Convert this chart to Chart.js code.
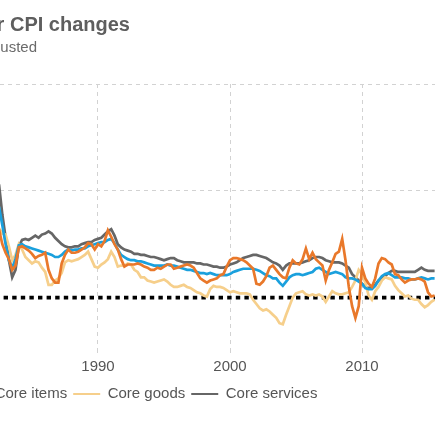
<!DOCTYPE html>
<html>
<head>
<meta charset="utf-8">
<script src="https://cdn.jsdelivr.net/npm/chart.js@4.4.1/dist/chart.umd.min.js"></script>
<style>
  html, body { margin: 0; padding: 0; background: #fff; }
  #wrap { position: relative; width: 435px; height: 435px; overflow: hidden; }
  #chart { position: absolute; left: -143px; top: 0; }
  .title, .sub { position: absolute; white-space: nowrap; font-family: 'Liberation Sans', Arial, sans-serif; }
  .title { right: 305px; top: 13.5px; font-size: 20px; font-weight: bold; line-height: 20px; color: #5e5e5e; }
  .sub { right: 398px; top: 39px; font-size: 15px; line-height: 15px; color: #6a6a6a; }
</style>
</head>
<body>
<div id="wrap">
  <canvas id="chart" width="578" height="435" style="width:578px;height:435px"></canvas>
  <div class="title">Year-over-year CPI changes</div>
  <div class="sub">Percent, seasonally adjusted</div>
</div>
<script>
// ---------- data (quarterly, % change from a year earlier) ----------
const firstQuarter = 1982.5;

const allItems = [
  6.4, 5.0,
  4.2, 3.6, 2.6, 3.0,
  4.7, 4.8, 4.6, 4.4,
  4.1, 3.7, 3.9, 4.0,
  4.2, 2.6, 1.8, 1.4,
  1.4, 3.2, 4.0, 4.5,
  4.2, 4.2, 4.3, 4.5,
  4.7, 5.1, 5.0, 4.5,
  5.0, 4.8, 5.3, 6.3,
  5.7, 5.0, 4.5, 3.6,
  2.9, 3.1, 3.1, 3.1,
  3.2, 3.1, 2.9, 2.8,
  2.6, 2.6, 2.8, 2.7,
  2.9, 3.1, 3.1, 2.7,
  2.8, 2.9, 3.0, 3.1,
  3.0, 2.8, 2.3, 1.8,
  1.6, 1.4, 1.6, 1.7,
  1.8, 2.1, 2.2, 2.9,
  3.5, 3.7, 3.7, 3.6,
  3.5, 3.3, 3.0, 2.7,
  1.3, 1.2, 1.5, 2.0,
  2.8, 3.0, 2.6, 2.2,
  1.9, 1.8, 2.8, 3.5,
  3.2, 3.1, 3.6, 4.6,
  3.6, 4.2, 3.6, 3.3,
  3.0, 1.6, 2.6, 3.3,
  4.1, 4.3, 5.5, 3.5,
  1.0, -0.8, -1.9, -0.8,
  2.8, 1.8, 1.3, 1.0,
  1.8, 3.2, 3.7, 3.6,
  3.3, 3.1, 2.2, 2.1,
  1.7, 1.4, 1.6, 1.7,
  1.7, 1.8, 1.7, 1.5,
  0.5, 0.1, 0.2
];

const coreItems = [
  8.5, 6.8,
  5.0, 3.5, 2.8, 3.6,
  4.9, 5.0, 4.8, 4.7,
  4.6, 4.5, 4.4, 4.3,
  4.2, 4.1, 4.0, 3.8,
  3.8, 4.0, 4.3, 4.5,
  4.4, 4.5, 4.5, 4.6,
  4.6, 4.8, 4.9, 5.0,
  5.1, 5.2, 5.2, 5.4,
  5.5, 5.1, 4.5, 4.0,
  3.8, 3.6, 3.5, 3.5,
  3.4, 3.4, 3.3, 3.2,
  3.1, 3.0, 3.0, 3.0,
  3.0, 3.1, 3.0, 3.0,
  2.9, 2.8, 2.7, 2.6,
  2.6, 2.5, 2.4, 2.3,
  2.3, 2.2, 2.3, 2.2,
  2.1, 2.1, 2.1, 2.1,
  2.2, 2.4, 2.5, 2.6,
  2.7, 2.7, 2.7, 2.7,
  2.6, 2.5, 2.3, 2.1,
  2.0, 1.8, 1.8, 1.4,
  1.1, 1.5, 1.9, 2.1,
  2.2, 2.2, 2.1, 2.2,
  2.3, 2.4, 2.7, 2.8,
  2.6, 2.4, 2.2, 2.3,
  2.4, 2.3, 2.2, 1.9,
  1.8, 1.8, 1.7, 1.5,
  1.3, 0.9, 0.8, 0.8,
  1.1, 1.6, 2.0, 2.2,
  2.3, 2.1, 1.9, 1.9,
  1.9, 1.8, 1.8, 1.7,
  1.7, 1.8, 1.9, 1.8,
  1.7, 1.8, 1.8
];

const coreGoods = [
  6.5, 6.0,
  5.9, 4.8, 3.5, 4.0,
  5.0, 4.5, 3.8, 3.5,
  3.2, 3.4, 3.3, 2.8,
  2.4, 1.2, 1.2, 1.6,
  1.8, 2.3, 3.3, 3.5,
  3.4, 3.5, 3.6, 3.8,
  4.0, 4.3, 3.6, 2.9,
  2.8, 3.1, 3.3, 3.6,
  4.3, 3.8, 2.9, 3.0,
  3.0, 3.2, 3.1, 2.6,
  2.4, 1.9, 1.9, 1.6,
  1.5, 1.4, 1.5, 1.6,
  1.7, 1.5, 1.2, 1.0,
  1.0, 1.1, 1.2, 1.0,
  0.9, 0.7, 0.5, 0.4,
  0.2, 0.1, 0.8, 1.1,
  1.0, 1.0, 0.9, 0.7,
  0.5, 0.6, 0.5, 0.4,
  0.4, 0.4, 0.3, -0.2,
  -0.6, -1.0, -1.2, -1.1,
  -1.3, -1.6, -1.9, -2.4,
  -2.5, -1.6, -0.8, 0.0,
  0.4, 0.5, 0.6, 0.3,
  0.2, 0.3, 0.2, 0.3,
  0.1, -0.4, 0.1, 0.6,
  0.4, 0.3, 0.3, 0.4,
  0.5, 1.0, 1.6, 2.6,
  2.2, 1.4, 0.2, -0.2,
  0.6, 1.0, 1.6, 1.9,
  1.8, 1.7, 1.1, 0.7,
  0.4, 0.1, 0.2, -0.1,
  -0.2, -0.2, -0.6, -0.9,
  -0.7, -0.4, -0.2
];

const coreServices = [
  10.6, 7.8,
  5.6, 3.5, 1.9, 2.6,
  4.8, 5.4, 5.5, 5.4,
  5.6, 5.8, 5.6, 5.9,
  6.0, 6.2, 6.0, 5.6,
  5.3, 5.0, 4.8, 4.7,
  4.7, 4.8, 4.8, 5.0,
  5.1, 5.2, 5.2, 5.4,
  5.5, 5.6, 5.9, 6.2,
  6.4, 5.8, 5.0, 4.7,
  4.5, 4.4, 4.3, 4.1,
  4.1, 4.0, 4.0, 3.9,
  3.8, 3.8, 3.7, 3.6,
  3.5, 3.6, 3.7, 3.7,
  3.5, 3.4, 3.3, 3.3,
  3.3, 3.3, 3.2, 3.2,
  3.1, 3.1, 3.0, 2.9,
  2.9, 2.8, 2.8, 2.9,
  3.1, 3.2, 3.3, 3.5,
  3.7, 3.8, 3.9, 4.0,
  4.0, 3.9, 3.8, 3.7,
  3.5, 3.3, 3.2, 3.0,
  2.6, 3.0, 3.2, 3.2,
  3.2, 3.2, 3.3, 3.4,
  3.5, 3.7, 3.8, 3.8,
  3.7, 3.5, 3.4, 3.3,
  3.3, 3.3, 3.2, 3.0,
  2.8, 2.2, 1.9, 1.6,
  1.3, 1.0, 0.9, 1.0,
  1.2, 1.6, 1.8, 2.0,
  2.3, 2.5, 2.5, 2.4,
  2.4, 2.4, 2.4, 2.4,
  2.4, 2.6, 2.8, 2.6,
  2.5, 2.5, 2.5
];

const seriesNames = ['All items', 'Core items', 'Core goods', 'Core services'];
const yearTicks = [1990, 2000, 2010];
const valueTicks = [10, 20];
const zeroLevel = 0;

// ---------- styles ----------
const FONT = "'Liberation Sans', Arial, sans-serif";
const COLORS = ['#e9782a', '#1aa0dd', '#f6cf8b', '#666666'];
const GRID = '#d2d2d2';
const X_MIN = 1982.576, X_MAX = 2015.53;

Chart.defaults.font.family = FONT;
Chart.defaults.color = '#555';

const quarters = allItems.map((_, i) => firstQuarter + i / 4);
const series = [allItems, coreItems, coreGoods, coreServices];

const datasets = series.map((vals, k) => ({
  label: seriesNames[k],
  data: vals.map((v, i) => ({ x: quarters[i], y: v })),
  borderColor: COLORS[k],
  backgroundColor: COLORS[k],
  borderWidth: 2.7,
  pointRadius: 0,
  tension: 0,
  fill: false,
}));

// zero reference, dotted black (drawn underneath the series)
datasets.push({
  label: '',
  data: [{ x: X_MIN, y: zeroLevel }, { x: X_MAX, y: zeroLevel }],
  borderColor: '#000',
  borderWidth: 3.6,
  borderDash: [4.4, 4.2],
  borderDashOffset: 5,
  pointRadius: 0,
  fill: false,
});

new Chart(document.getElementById('chart').getContext('2d'), {
  type: 'line',
  data: { datasets },
  options: {
    responsive: false,
    animation: false,
    layout: { padding: { top: 84, bottom: 23.5, left: 0, right: 0 } },
    plugins: {
      title: { display: false },
      tooltip: { enabled: false },
      legend: {
        position: 'bottom',
        align: 'start',
        labels: {
          boxWidth: 27,
          boxHeight: 2,
          padding: 6,
          color: '#555',
          font: { family: FONT, size: 15 },
          filter: item => item.text !== '',
          generateLabels: chart => Chart.defaults.plugins.legend.labels.generateLabels(chart)
            .map(it => ({ ...it, lineWidth: 0, lineDash: [] })),
        },
      },
    },
    scales: {
      x: {
        type: 'linear',
        min: X_MIN,
        max: X_MAX,
        afterBuildTicks: s => { s.ticks = yearTicks.map(v => ({ value: v })); },
        afterFit: s => { s.height = 29.5; },
        ticks: { callback: v => String(v), color: '#555', font: { size: 15 }, padding: 4.5, maxRotation: 0, autoSkip: false },
        grid: { color: GRID, lineWidth: 1, tickLength: 2, tickColor: GRID },
        border: { display: false, dash: [4, 4] },
      },
      y: {
        min: -5,
        max: 20,
        afterBuildTicks: s => { s.ticks = valueTicks.map(v => ({ value: v })); },
        afterFit: s => { s.width = 143; },
        ticks: { display: false },
        grid: { color: GRID, lineWidth: 1, drawTicks: false },
        border: { display: false, dash: [4, 4] },
      },
    },
  },
});
</script>
</body>
</html>
